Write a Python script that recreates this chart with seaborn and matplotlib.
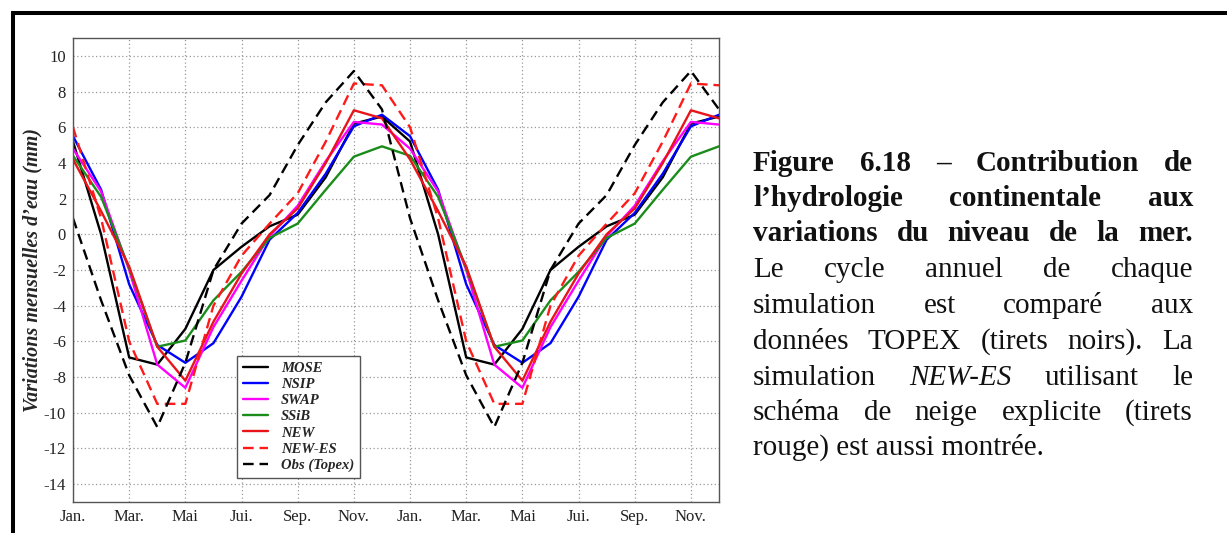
import numpy as np
import pandas as pd
import matplotlib
matplotlib.use("Agg")
import matplotlib.pyplot as plt
import seaborn as sns
from matplotlib.lines import Line2D
from matplotlib.transforms import IdentityTransform

# Monthly values (Jan..Dec); the chart shows two identical cycles
mose = [5.2, 0.0, -6.9, -7.3, -5.3, -2.0, -0.7, 0.45, 1.1, 3.2, 6.2, 6.6]
nsip = [5.5, 2.5, -2.8, -6.2, -7.2, -6.1, -3.5, -0.3, 1.2, 3.4, 6.05, 6.7]
swap = [4.8, 2.4, -2.0, -7.3, -8.6, -5.2, -2.6, -0.1, 1.6, 4.1, 6.3, 6.15]
ssib = [4.4, 2.1, -1.9, -6.3, -5.95, -3.7, -2.1, -0.2, 0.6, 2.5, 4.35, 4.93]
new = [4.2, 1.3, -1.8, -6.3, -8.2, -4.9, -2.2, 0.0, 1.45, 4.0, 6.95, 6.5]
new_es = [6.0, 0.9, -6.0, -9.5, -9.5, -4.0, -1.2, 0.6, 2.3, 5.2, 8.45, 8.35]
obs_topex = [0.9, -3.7, -7.9, -10.8, -7.2, -2.0, 0.6, 2.2, 5.0, 7.4, 9.15, 7.0]

series_names = ["MOSE", "NSIP", "SWAP", "SSiB", "NEW", "NEW-ES", "Obs (Topex)"]
series_values = [mose, nsip, swap, ssib, new, new_es, obs_topex]
series_colors = ["#000000", "#0000ff", "#ff00ff", "#1a8c1a", "#e8141a", "#ff1a1a", "#000000"]
series_dashed = [False, False, False, False, False, True, True]

tick_labels = ["Jan.", "Mar.", "Mai", "Jui.", "Sep.", "Nov."] * 2
y_ticks = list(range(-14, 11, 2))

# caption lines: (word, weight/style)
caption_lines = [
    [("Figure", "b"), ("6.18", "b"), ("–", "b"), ("Contribution", "b"), ("de", "b")],
    [("l’hydrologie", "b"), ("continentale", "b"), ("aux", "b")],
    [("variations", "b"), ("du", "b"), ("niveau", "b"), ("de", "b"), ("la", "b"), ("mer.", "b")],
    [("Le", "n"), ("cycle", "n"), ("annuel", "n"), ("de", "n"), ("chaque", "n")],
    [("simulation", "n"), ("est", "n"), ("comparé", "n"), ("aux", "n")],
    [("données", "n"), ("TOPEX", "n"), ("(tirets", "n"), ("noirs).", "n"), ("La", "n")],
    [("simulation", "n"), ("NEW-ES", "i"), ("utilisant", "n"), ("le", "n")],
    [("schéma", "n"), ("de", "n"), ("neige", "n"), ("explicite", "n"), ("(tirets", "n")],
]
caption_last = "rouge) est aussi montrée."

# long-form table, two cycles
n_cycles = 2
rows = []
for name, vals in zip(series_names, series_values):
    for k, v in enumerate(vals * n_cycles):
        rows.append({"mois": k, "valeur": v, "serie": name})
df = pd.DataFrame(rows)

sns.set_style("white")
plt.rcParams["font.family"] = ["Liberation Serif", "DejaVu Serif"]
plt.rcParams["axes.unicode_minus"] = False

W, H = 1227, 533
fig = plt.figure(figsize=(W / 100, H / 100), dpi=100)
ax = fig.add_axes([73 / W, (H - 502) / H, 646 / W, 464 / H])

for name, col, dashed in zip(series_names, series_colors, series_dashed):
    sub = df[df["serie"] == name]
    sns.lineplot(data=sub, x="mois", y="valeur", color=col, lw=1.7,
                 linestyle=(0, (4.5, 2.5)) if dashed else "-",
                 label=name, ax=ax, errorbar=None)

ax.set_xlim(0, 23)
ax.set_ylim(-15, 11)
ax.set_xticks(range(0, 24, 2))
ax.set_xticklabels(tick_labels)
ax.set_yticks(y_ticks)
ax.set_yticklabels([str(t) for t in y_ticks])
ax.tick_params(length=0, labelsize=12, pad=5, colors="#222222")
ax.grid(True, color="#999999", lw=0.9, linestyle=(0, (1, 2)))
for sp in ax.spines.values():
    sp.set_color("#555555")
    sp.set_linewidth(1.0)

ax.set_xlabel("")
ax.set_ylabel("Variations mensuelles d’eau (mm)", fontsize=14.5,
              fontweight="bold", fontstyle="italic")
ax.yaxis.set_label_coords(-0.048, 0.5)

leg = ax.legend(loc="lower left", bbox_to_anchor=(0.254, 0.052), borderaxespad=0,
                frameon=True, fancybox=False, framealpha=1, edgecolor="#555555",
                prop={"family": "Liberation Serif", "weight": "bold", "style": "italic", "size": 10.5},
                handlelength=1.7, handletextpad=0.9, labelspacing=0.2, borderpad=0.4)
leg.get_frame().set_linewidth(1.0)

# page frame (top and left)
fig.add_artist(Line2D([11, W], [H - 13, H - 13], transform=IdentityTransform(),
                      color="black", lw=2.9, solid_capstyle="butt"))
fig.add_artist(Line2D([13, 13], [0, H - 11], transform=IdentityTransform(),
                      color="black", lw=2.9, solid_capstyle="butt"))

# justified caption
renderer = fig.canvas.get_renderer()
x_left, x_right = 753, 1193
baselines = [171, 206, 241, 277, 313, 349, 385, 420, 455]
cap_size = 21
styles = {"b": dict(fontweight="bold"), "n": dict(), "i": dict(fontstyle="italic")}
for line, yb in zip(caption_lines, baselines):
    texts = [fig.text(0, H - yb, w, transform=IdentityTransform(), fontsize=cap_size,
                      va="baseline", ha="left", color="#111111", **styles[s])
             for w, s in line]
    widths = [t.get_window_extent(renderer).width for t in texts]
    gap = (x_right - x_left - sum(widths)) / (len(texts) - 1)
    x = x_left
    for t, w in zip(texts, widths):
        t.set_x(x)
        x += w + gap
fig.text(x_left, H - baselines[-1], caption_last, transform=IdentityTransform(),
         fontsize=cap_size, va="baseline", ha="left", color="#111111")

fig.savefig("out.png", dpi=100)
plt.close(fig)
